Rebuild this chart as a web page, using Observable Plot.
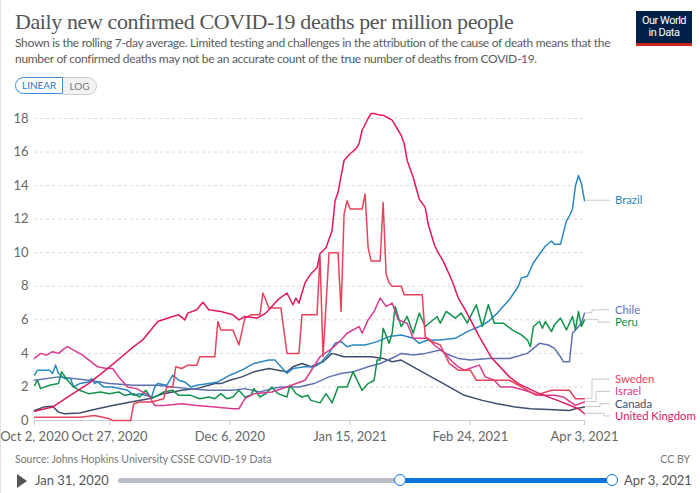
<!DOCTYPE html>
<html>
<head>
<meta charset="utf-8">
<script src="https://cdn.jsdelivr.net/npm/d3@7"></script>
<script src="https://cdn.jsdelivr.net/npm/@observablehq/plot@0.6"></script>
<style>
  html, body { margin:0; padding:0; background:#fff; }
  body { width:700px; height:493px; position:relative; overflow:hidden; font-family: Lato, "Noto Sans", sans-serif; }
  .frame { position:absolute; left:0; top:0; width:1px; height:493px; background:#e4e4e4; }
  .title { position:absolute; left:15px; top:9px; font-family:"Liberation Serif", "DejaVu Serif", serif; font-size:22px; color:#555; letter-spacing:-0.4px; white-space:nowrap; }
  .subtitle { position:absolute; left:15px; top:35px; font-size:12px; line-height:16px; color:#5b5b5b; white-space:nowrap; letter-spacing:-0.3px; }
  .logo { position:absolute; left:636px; top:11px; width:56px; height:35px; background:#002147; color:#fff; font-family:"Liberation Sans Narrow", "Roboto", sans-serif; font-size:11px; line-height:12px; text-align:center; padding-top:4px; box-sizing:border-box; letter-spacing:-0.5px; white-space:nowrap; }
  .logo:after { content:""; position:absolute; left:0; right:0; bottom:0; height:3px; background:#ce261e; }
  .btns { position:absolute; left:15px; top:77px; display:flex; font-size:10px; }
  .btn { height:16px; line-height:16px; padding:0 6px; border:1px solid #ccc; color:#777; background:#f2f2f2; }
  .btn.on { border:1.5px solid #3c8ddb; color:#2b74c7; background:#fff; border-radius:9px 0 0 9px; height:15px; line-height:15px; }
  .btn.off { border-left:none; border-radius:0 9px 9px 0; }
  #chart { position:absolute; left:0; top:100px; }
  .source { position:absolute; left:15px; top:453px; font-size:10.5px; color:#777; }
  .cc { position:absolute; right:10px; top:453px; font-size:10.5px; color:#777; }
  .play { position:absolute; left:17px; top:474px; width:0; height:0; border-left:10px solid #555; border-top:7px solid transparent; border-bottom:7px solid transparent; }
  .tl-start { position:absolute; left:35px; top:472px; font-size:13px; color:#555; }
  .tl-end { position:absolute; left:624px; top:472px; font-size:13px; color:#555; }
  .track { position:absolute; left:118px; top:478px; width:494px; height:5px; background:#b8bcc4; border-radius:3px; }
  .track-on { position:absolute; left:400px; top:478px; width:212px; height:5px; background:#0b74de; }
  .handle { position:absolute; top:474px; width:10px; height:10px; border:1.5px solid #0b74de; border-radius:50%; background:#fff; }
  #chart svg g[aria-label^="x-axis"] text, #chart svg g[aria-label^="y-axis"] text { fill:#666; }
</style>
</head>
<body>
<div class="frame"></div>
<div class="title">Daily new confirmed COVID-19 deaths per million people</div>
<div class="subtitle">Shown is the rolling 7-day average. Limited testing and challenges in the attribution of the cause of death means that the<br>number of confirmed deaths may not be an accurate count of the true number of deaths from COVID-19.</div>
<div class="logo">Our World<br>in Data</div>
<div class="btns"><div class="btn on">LINEAR</div><div class="btn off">LOG</div></div>
<div id="chart"></div>
<div class="source">Source: Johns Hopkins University CSSE COVID-19 Data</div>
<div class="cc">CC BY</div>
<div class="play"></div>
<div class="tl-start">Jan 31, 2020</div>
<div class="track"></div>
<div class="track-on"></div>
<div class="handle" style="left:394px"></div>
<div class="handle" style="left:606px"></div>
<div class="tl-end">Apr 3, 2021</div>
<script>
// ---- data: [days since start date, deaths per million (7-day avg)] ----
const startDate = "2020-10-02";
const endDate = "2021-04-03";
const countries = ["Canada", "Chile", "Brazil", "Peru", "Israel", "Sweden", "United Kingdom"];
const countryColors = ["#3e4d6c", "#5d71b2", "#2b87bf", "#11924a", "#d83a90", "#e6435a", "#e0175f"];
const yTicks = [0, 2, 4, 6, 8, 10, 12, 14, 16, 18];
const xTickDates = ["2020-10-02", "2020-10-27", "2020-12-06", "2021-01-15", "2021-02-24", "2021-04-03"];

const brazil = [[0,2.7],[1,3.0],[5,3.0],[6,2.8],[7,3.3],[8,2.8],[10,2.5],[12,2.5],[13,2.0],[15,2.2],[18,2.3],[19,2.5],[20,2.2],[21,2.3],[23,2.0],[26,2.0],[31,1.8],[33,1.5],[35,1.6],[39,1.4],[40,2.0],[41,2.2],[44,2.1],[46,2.7],[48,2.4],[50,2.3],[52,2.0],[54,2.1],[58,2.2],[61,2.3],[65,2.7],[69,3.0],[73,3.4],[78,3.6],[80,3.6],[82,3.2],[84,2.8],[86,3.1],[90,3.2],[93,3.2],[95,3.4],[98,4.0],[100,4.6],[102,4.7],[104,4.4],[106,4.5],[110,4.5],[114,4.7],[118,5.0],[122,5.1],[126,4.9],[128,4.6],[131,4.8],[135,4.8],[140,4.9],[144,5.3],[148,5.6],[151,5.9],[154,6.4],[158,7.2],[161,8.0],[162,8.5],[164,8.6],[166,9.4],[170,10.4],[172,10.7],[173,10.5],[175,10.5],[177,11.9],[178,12.2],[179,12.6],[180,14.0],[181,14.6],[182,14.1],[183,13.1]];
const chile = [[0,2.4],[8,2.6],[18,2.4],[25,2.2],[33,2.1],[41,2.1],[51,1.9],[58,1.8],[66,1.8],[70,1.9],[75,1.7],[79,1.9],[82,2.0],[88,2.0],[93,2.2],[98,2.6],[102,2.8],[106,2.9],[111,3.2],[115,3.4],[120,3.8],[122,4.0],[126,3.9],[130,4.0],[135,4.2],[138,3.9],[141,3.7],[145,3.6],[151,3.7],[158,3.7],[164,4.0],[168,4.6],[171,4.5],[173,4.3],[175,3.8],[176,3.5],[178,3.5],[179,5.2],[182,5.8],[183,6.4]];
const peru = [[0,2.1],[1,2.4],[2,1.9],[5,2.1],[8,2.2],[9,2.9],[11,2.4],[13,2.0],[15,1.8],[18,1.6],[22,1.7],[25,1.6],[28,1.7],[30,1.5],[33,1.6],[35,1.4],[37,1.8],[39,1.3],[41,1.5],[43,1.7],[46,1.8],[48,1.5],[52,1.5],[55,1.3],[58,1.4],[60,1.3],[62,1.6],[64,1.3],[66,1.4],[68,1.8],[70,1.4],[72,1.5],[73,1.9],[75,1.4],[77,1.6],[79,2.0],[81,1.6],[84,1.4],[85,2.1],[87,1.6],[89,1.4],[91,1.5],[92,1.2],[95,1.05],[97,1.6],[99,1.05],[101,2.0],[104,2.0],[106,2.9],[109,1.8],[111,2.2],[113,2.4],[114,3.6],[115,3.6],[116,5.5],[118,4.6],[119,5.2],[120,6.8],[122,5.6],[124,6.2],[126,5.2],[128,6.4],[130,5.6],[132,5.9],[134,6.2],[135,5.8],[137,6.5],[140,6.1],[142,6.4],[144,5.8],[147,6.9],[149,5.6],[151,6.9],[153,5.8],[156,5.8],[159,5.4],[162,5.1],[164,4.8],[165,4.4],[166,5.6],[168,5.9],[169,5.5],[170,5.9],[172,5.3],[173,5.7],[175,6.1],[177,5.4],[179,6.2],[180,5.4],[181,6.5],[182,5.6],[183,6.0]];
const sweden = [[0,0.2],[15,0.2],[20,0.3],[25,0.1],[26,0.0],[32,0.0],[33,1.0],[35,1.1],[39,1.1],[43,1.3],[44,2.0],[46,2.0],[47,3.2],[49,3.1],[51,3.3],[54,3.3],[55,3.8],[60,3.8],[61,5.9],[62,5.4],[66,5.4],[68,4.5],[70,6.1],[72,6.3],[75,6.3],[76,7.6],[78,6.7],[82,6.7],[84,4.0],[88,4.0],[89,6.3],[94,6.3],[95,9.8],[96,3.8],[98,10.0],[101,10.0],[102,6.5],[103,12.3],[104,13.1],[105,12.6],[109,12.6],[110,13.5],[111,10.3],[112,9.5],[115,9.5],[116,13.0],[117,8.7],[118,8.2],[119,8.0],[122,8.0],[123,7.5],[129,7.5],[130,5.0],[131,4.8],[135,4.5],[138,3.4],[141,3.0],[145,3.0],[147,2.4],[152,2.4],[158,2.4],[162,2.0],[167,1.5],[172,1.8],[178,1.8],[180,1.3],[183,1.3]];
const israel = [[0,3.7],[2,4.0],[4,3.9],[6,4.1],[8,4.0],[10,4.3],[11,4.4],[13,4.2],[16,3.9],[21,3.2],[24,3.1],[26,3.1],[28,2.6],[31,2.0],[34,1.9],[38,1.5],[40,0.9],[43,0.9],[49,1.0],[54,0.9],[60,0.8],[66,0.7],[68,0.7],[70,1.3],[73,1.6],[79,1.7],[84,2.0],[90,2.4],[95,3.8],[99,4.3],[102,4.8],[104,5.2],[108,5.6],[109,5.2],[111,6.0],[113,6.5],[115,7.3],[117,6.8],[119,7.0],[121,6.0],[124,5.8],[126,4.9],[131,4.9],[133,4.5],[136,4.1],[139,3.5],[141,3.2],[143,3.0],[148,3.3],[150,2.6],[153,2.4],[155,2.0],[159,2.0],[163,1.8],[168,1.5],[173,1.5],[176,1.4],[180,0.9],[183,1.1]];
const canada = [[0,0.6],[3,0.8],[6,0.85],[8,0.5],[10,0.4],[15,0.45],[21,0.7],[26,0.9],[32,1.1],[38,1.3],[43,1.6],[49,1.8],[54,1.9],[60,2.2],[62,2.2],[65,2.4],[69,2.6],[73,2.9],[78,3.1],[81,3.0],[84,2.9],[86,3.2],[89,3.4],[92,3.2],[96,3.5],[99,4.0],[101,3.9],[103,3.8],[106,3.8],[112,3.8],[116,3.7],[119,3.5],[122,3.6],[126,3.2],[132,2.6],[138,2.0],[143,1.5],[149,1.2],[154,1.0],[160,0.8],[165,0.7],[171,0.65],[178,0.6],[180,0.7],[183,0.8]];
const unitedKingdom = [[0,0.55],[6,0.8],[11,1.4],[18,2.2],[25,3.2],[29,3.8],[33,4.4],[36,4.8],[41,5.9],[46,6.2],[48,6.3],[50,6.0],[51,6.4],[54,6.6],[56,7.05],[58,6.6],[62,6.5],[66,6.3],[68,6.0],[70,6.2],[74,6.1],[77,6.4],[81,7.2],[84,7.6],[86,6.9],[87,7.3],[88,7.0],[89,7.6],[90,8.2],[92,8.75],[94,9.1],[95,9.95],[97,10.3],[98,10.8],[99,11.3],[100,13.1],[101,13.6],[103,15.5],[105,15.9],[107,16.2],[108,16.5],[109,17.3],[111,18.0],[112,18.3],[113,18.3],[115,18.2],[116,18.2],[118,18.0],[119,17.9],[121,17.3],[122,17.0],[123,16.5],[124,15.5],[126,14.5],[128,13.2],[130,12.7],[131,11.7],[133,10.5],[134,10.1],[136,9.5],[139,8.3],[141,7.3],[143,6.7],[148,5.0],[152,3.75],[158,2.6],[161,2.2],[168,1.6],[174,1.2],[181,0.7],[183,0.4]];

const seriesByCountry = {
  "Brazil": brazil, "Chile": chile, "Peru": peru, "Sweden": sweden,
  "Israel": israel, "Canada": canada, "United Kingdom": unitedKingdom
};

// ---- build table ----
const t0 = new Date(startDate + "T00:00:00Z");
const rows = [];
for (const c of countries) {
  for (const [d, v] of seriesByCountry[c]) rows.push({country: c, date: d3.utcDay.offset(t0, d), value: v});
}
const colorOf = Object.fromEntries(countries.map((c, i) => [c, countryColors[i]]));

const W = 700, H = 348, mL = 34, mR = 116, mT = 18, mB = 28;

const plot = Plot.plot({
  width: W, height: H,
  marginLeft: mL, marginRight: mR, marginTop: mT, marginBottom: mB,
  style: {fontFamily: "Lato, 'Noto Sans', sans-serif", fontSize: "13px", color: "#ccc", background: "transparent", overflow: "visible"},
  x: {type: "utc", domain: [t0, new Date(endDate + "T00:00:00Z")], ticks: xTickDates.map(s => new Date(s + "T00:00:00Z")), tickFormat: d3.utcFormat("%b %-d, %Y"), tickSize: 5, tickPadding: 6, label: null},
  y: {domain: [0, 18], ticks: yTicks, tickSize: 0, tickPadding: 6, label: null},
  color: {domain: countries, range: countryColors},
  marks: [
    Plot.ruleY(yTicks.filter(d => d > 0), {stroke: "#d9d9d9", strokeDasharray: "3,3"}),
    Plot.ruleY([0], {stroke: "#ccc"}),
    Plot.line(rows, {x: "date", y: "value", z: "country", stroke: "country", strokeWidth: 1.5, curve: "linear"})
  ]
});
document.getElementById("chart").appendChild(plot);

// ---- end labels with dodge, using the plot's own scales ----
const xd = plot.scale("x"), yd = plot.scale("y");
const xs = d3.scaleUtc().domain(xd.domain).range(xd.range);
const ys = d3.scaleLinear().domain(yd.domain).range(yd.range);
const labelOrder = ["Brazil", "Chile", "Peru", "Sweden", "Israel", "Canada", "United Kingdom"];
const ends = labelOrder.map(c => {
  const s = seriesByCountry[c];
  const [d, v] = s[s.length - 1];
  return {name: c, color: colorOf[c], x: xs(d3.utcDay.offset(t0, d)), ty: ys(v)};
}).sort((a, b) => a.ty - b.ty);

const gap = 12.3, maxY = H - mB - 4, minY = mT;
let groups = ends.map(e => ({items: [e]}));
function place(g) {
  const mean = d3.mean(g.items, e => e.ty);
  let top = mean - (g.items.length - 1) * gap / 2;
  const bottom = top + (g.items.length - 1) * gap;
  if (bottom > maxY) top -= bottom - maxY;
  if (top < minY) top = minY;
  g.top = top; g.bottom = top + (g.items.length - 1) * gap;
}
groups.forEach(place);
let merged = true;
while (merged) {
  merged = false;
  for (let i = 0; i < groups.length - 1; i++) {
    if (groups[i].bottom + gap > groups[i + 1].top) {
      const g = {items: groups[i].items.concat(groups[i + 1].items)};
      place(g);
      groups.splice(i, 2, g);
      merged = true;
      break;
    }
  }
}
const svg = d3.select(plot.tagName.toLowerCase() === "svg" ? plot : plot.querySelector("svg"));
const lab = svg.append("g").attr("text-anchor", "start");
for (const g of groups) {
  g.items.forEach((e, i) => {
    const ly = g.top + i * gap;
    const vx = e.x + 8 + (g.items.length > 2 ? i * 4 : i * 6);
    lab.append("path")
      .attr("d", `M${e.x + 2},${e.ty}H${vx}V${ly}H${e.x + 26}`)
      .attr("fill", "none").style("stroke", "#c8c8c8").attr("stroke-width", 1);
    lab.append("text")
      .attr("x", e.x + 31).attr("y", ly).attr("dy", "0.35em")
      .attr("text-anchor", "start")
      .style("fill", e.color).style("font-size", "11.3px")
      .style("font-family", "Lato, 'Noto Sans', sans-serif")
      .text(e.name);
  });
}
</script>
</body>
</html>
